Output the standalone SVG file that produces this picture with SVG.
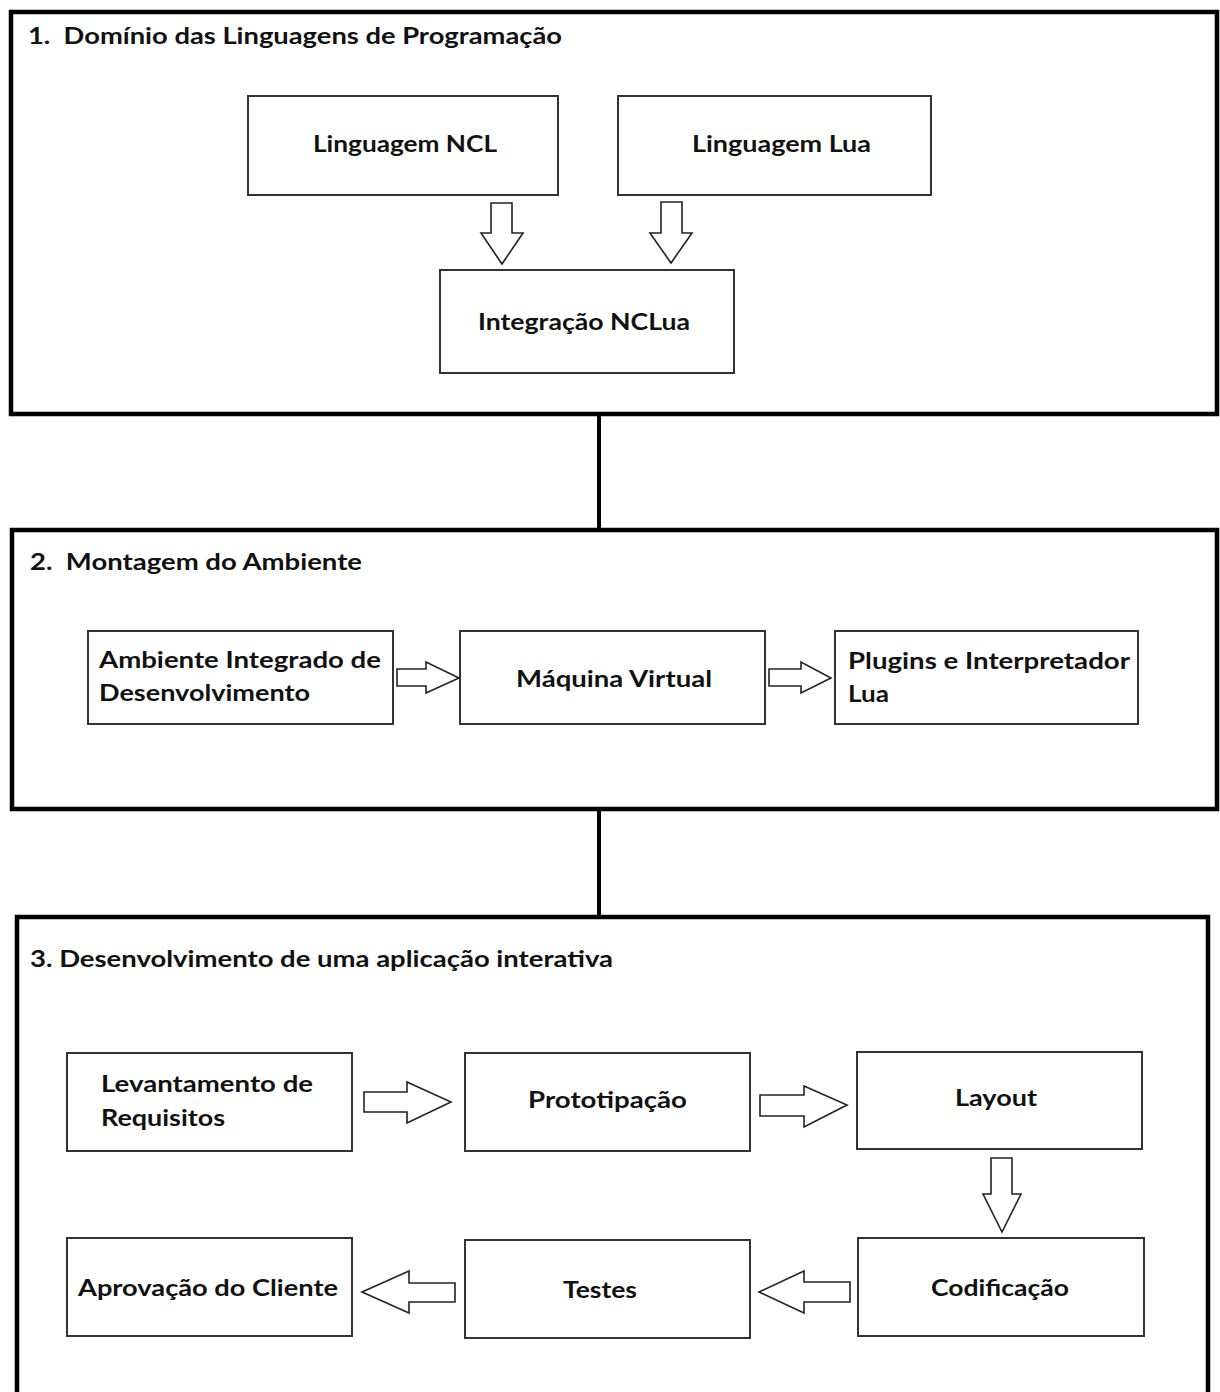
<svg xmlns="http://www.w3.org/2000/svg" width="1220" height="1392" viewBox="0 0 1220 1392">
<style>
.frame{fill:none;stroke:#000;stroke-width:4.5}
.node{fill:#fff;stroke:#333;stroke-width:2}
.arr{fill:#fff;stroke:#222;stroke-width:1.6;stroke-linejoin:miter}
.link{stroke:#000;stroke-width:4;fill:none}
text{font-family:Lato,"Liberation Sans",sans-serif;font-weight:bold;font-size:23px;fill:#111}
</style>
<rect width="1220" height="1392" fill="#fff"/>
<g id="section1">
<rect class="frame" x="11" y="12" width="1206" height="402"/>
<text x="28" y="44" textLength="534" lengthAdjust="spacingAndGlyphs">1.&#160; Domínio das Linguagens de Programação</text>
</g>
<g id="linguagem-ncl">
<rect class="node" x="248" y="96" width="310" height="99"/>
<text x="313" y="152" textLength="184" lengthAdjust="spacingAndGlyphs">Linguagem NCL</text>
</g>
<g id="linguagem-lua">
<rect class="node" x="618" y="96" width="313" height="99"/>
<text x="692" y="152" textLength="179" lengthAdjust="spacingAndGlyphs">Linguagem Lua</text>
</g>
<g id="integracao-nclua">
<rect class="node" x="440" y="270" width="294" height="103"/>
<text x="478" y="330" textLength="212" lengthAdjust="spacingAndGlyphs">Integração NCLua</text>
</g>
<g id="section2">
<rect class="frame" x="12" y="530" width="1205" height="279"/>
<text x="30" y="570" textLength="332" lengthAdjust="spacingAndGlyphs">2.&#160; Montagem do Ambiente</text>
</g>
<g id="ambiente-integrado">
<rect class="node" x="88" y="631" width="305" height="93"/>
<text x="99" y="668" textLength="282" lengthAdjust="spacingAndGlyphs">Ambiente Integrado de</text>
<text x="99" y="701" textLength="211" lengthAdjust="spacingAndGlyphs">Desenvolvimento</text>
</g>
<g id="maquina-virtual">
<rect class="node" x="460" y="631" width="305" height="93"/>
<text x="516" y="687" textLength="196" lengthAdjust="spacingAndGlyphs">Máquina Virtual</text>
</g>
<g id="plugins">
<rect class="node" x="835" y="631" width="303" height="93"/>
<text x="848" y="669" textLength="282" lengthAdjust="spacingAndGlyphs">Plugins e Interpretador</text>
<text x="848" y="702" textLength="41" lengthAdjust="spacingAndGlyphs">Lua</text>
</g>
<g id="section3">
<rect class="frame" x="17" y="917" width="1191" height="490"/>
<text x="30" y="967" textLength="583" lengthAdjust="spacingAndGlyphs">3. Desenvolvimento de uma aplicação interativa</text>
</g>
<g id="levantamento">
<rect class="node" x="67" y="1053" width="285" height="98"/>
<text x="101" y="1092" textLength="212" lengthAdjust="spacingAndGlyphs">Levantamento de</text>
<text x="101" y="1126" textLength="124" lengthAdjust="spacingAndGlyphs">Requisitos</text>
</g>
<g id="prototipacao">
<rect class="node" x="465" y="1053" width="285" height="98"/>
<text x="528" y="1108" textLength="159" lengthAdjust="spacingAndGlyphs">Prototipação</text>
</g>
<g id="layout">
<rect class="node" x="857" y="1052" width="285" height="97"/>
<text x="955" y="1106" textLength="82" lengthAdjust="spacingAndGlyphs">Layout</text>
</g>
<g id="codificacao">
<rect class="node" x="858" y="1238" width="286" height="98"/>
<text x="931" y="1296" textLength="138" lengthAdjust="spacingAndGlyphs">Codificação</text>
</g>
<g id="testes">
<rect class="node" x="465" y="1240" width="285" height="98"/>
<text x="563" y="1298" textLength="74" lengthAdjust="spacingAndGlyphs">Testes</text>
</g>
<g id="aprovacao">
<rect class="node" x="67" y="1238" width="285" height="98"/>
<text x="78" y="1296" textLength="260" lengthAdjust="spacingAndGlyphs">Aprovação do Cliente</text>
</g>
<g id="connectors">
<line class="link" x1="599" y1="414" x2="599" y2="530"/>
<line class="link" x1="599" y1="809" x2="599" y2="917"/>
<polygon class="arr" points="491,203 512,203 512,233 523,233 502,264 481,233 491,233"/>
<polygon class="arr" points="661,202 682,202 682,233 692,233 671,263 650,233 661,233"/>
<polygon class="arr" points="397,669 426,669 426,662 459,678 426,693 426,686 397,686"/>
<polygon class="arr" points="769,669 801,669 801,662 831,678 801,693 801,686 769,686"/>
<polygon class="arr" points="364,1092 407,1092 407,1082 451,1102 407,1123 407,1112 364,1112"/>
<polygon class="arr" points="760,1095 804,1095 804,1086 847,1105 804,1127 804,1116 760,1116"/>
<polygon class="arr" points="991,1158 1012,1158 1012,1194 1021,1194 1002,1232 983,1194 991,1194"/>
<polygon class="arr" points="455,1283 409,1283 409,1271 362,1292 409,1313 409,1302 455,1302"/>
<polygon class="arr" points="850,1282 804,1282 804,1271 759,1292 804,1313 804,1302 850,1302"/>
</g>
</svg>
